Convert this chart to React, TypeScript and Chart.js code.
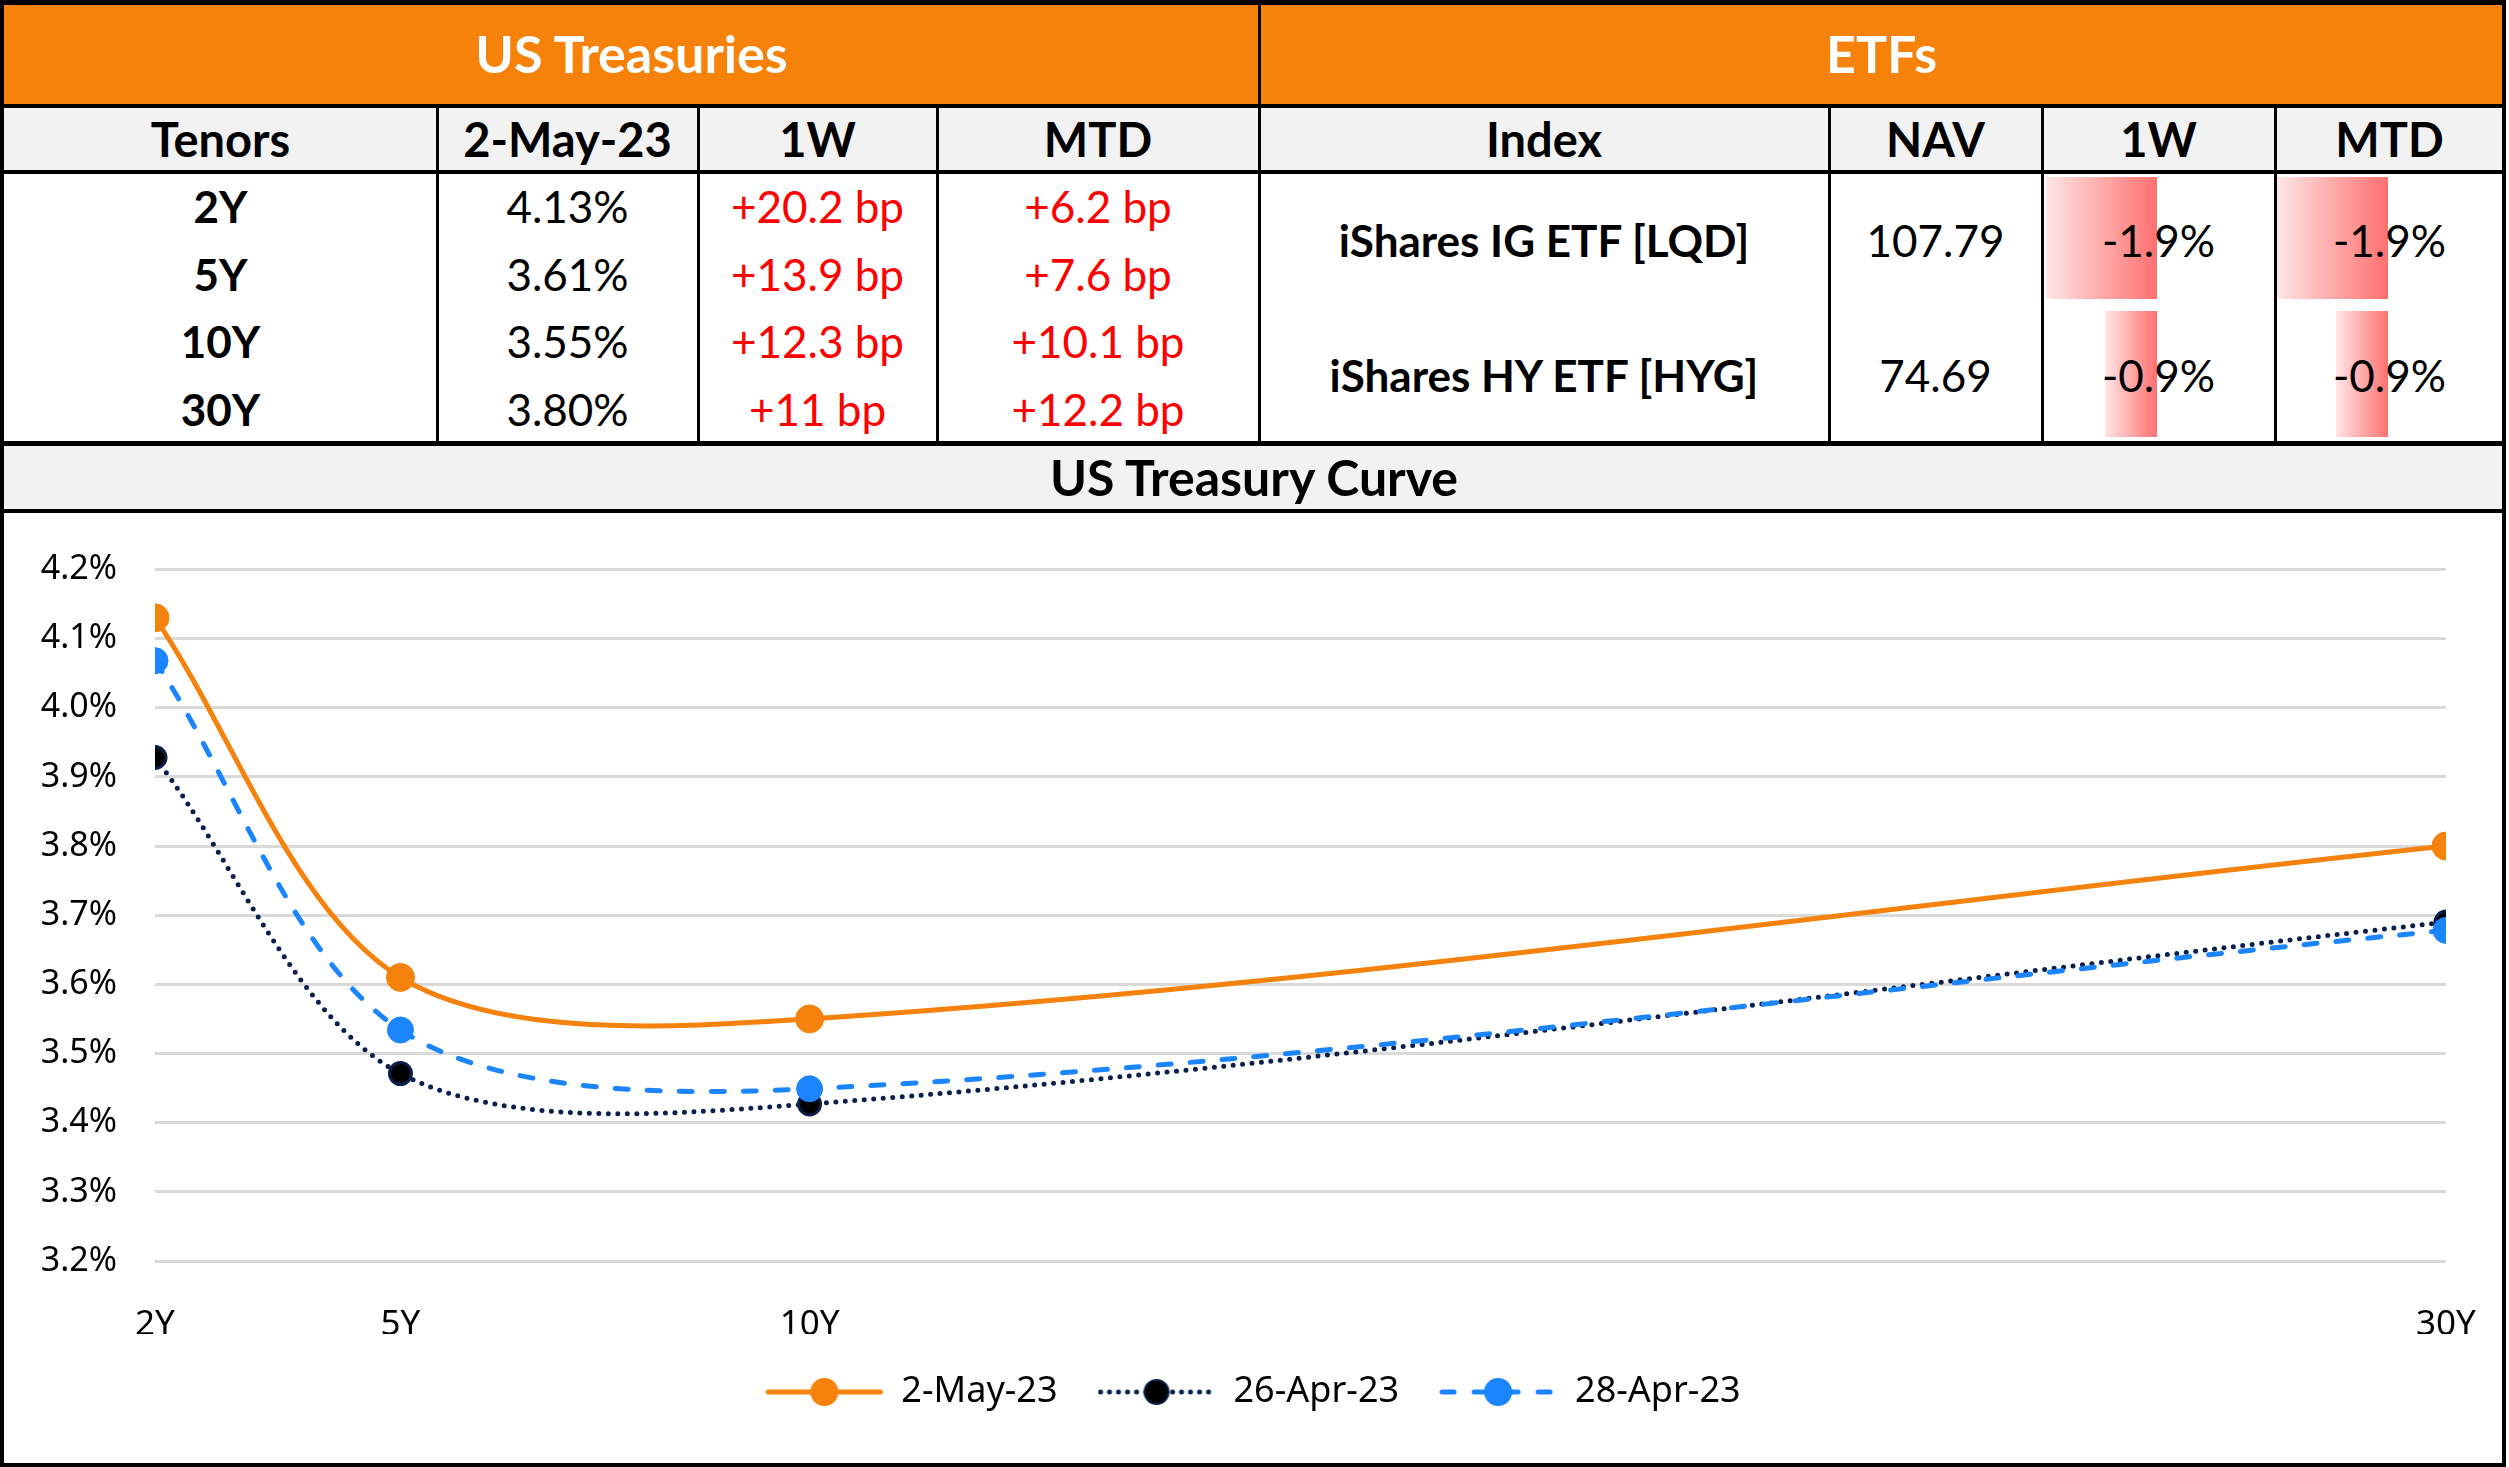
import React, { useEffect, useRef } from "react";
import { Chart, registerables } from "chart.js";

Chart.register(...registerables);

// ---------- DATA ----------
const tenorLabels = ["2Y", "5Y", "10Y", "30Y"];
const tenorYears = [2, 5, 10, 30];
const seriesNames = ["2-May-23", "26-Apr-23", "28-Apr-23"];
const yieldsMay2 = [4.13, 3.61, 3.55, 3.8];
const yieldsApr26 = [3.928, 3.471, 3.427, 3.69];
const yieldsApr28 = [4.068, 3.534, 3.449, 3.678];
const yTickValues = [3.2, 3.3, 3.4, 3.5, 3.6, 3.7, 3.8, 3.9, 4.0, 4.1, 4.2];

const yieldText = ["4.13%", "3.61%", "3.55%", "3.80%"];
const weekChangeText = ["+20.2 bp", "+13.9 bp", "+12.3 bp", "+11 bp"];
const mtdChangeText = ["+6.2 bp", "+7.6 bp", "+10.1 bp", "+12.2 bp"];

const etfNames = ["iShares IG ETF [LQD]", "iShares HY ETF [HYG]"];
const etfNav = ["107.79", "74.69"];
const etfWeek = [-1.9, -0.9];
const etfMtd = [-1.9, -0.9];

const tsyHeaders = ["Tenors", "2-May-23", "1W", "MTD"];
const etfHeaders = ["Index", "NAV", "1W", "MTD"];

// ---------- STYLE ----------
const ORANGE = "#F7820A";
const CHART_ORANGE = "#F5820C";
const BLUE = "#1A85FF";
const NAVY = "#0B1F4D";
const GRAY_BG = "#F2F2F2";
const TABLE_FONT = "Lato, 'Open Sans', sans-serif";
const CHART_FONT = "'Noto Sans', 'Open Sans', sans-serif";

const W = 2509;
const H = 1467;
const tsyCols = [4, 437, 698, 937, 1259];
const etfCols = [1259, 1829, 2042, 2275, 2504];
const rowY = { top: 0, orangeEnd: 106, headEnd: 172, dataEnd: 443, titleEnd: 511, bottom: 1463 };

function legendImage(
  color: string,
  dash: number[],
  lw: number,
  fill: string,
  border: string,
  r: number
) {
  const c = document.createElement("canvas");
  c.width = 118;
  c.height = 36;
  const g = c.getContext("2d")!;
  g.strokeStyle = color;
  g.lineWidth = lw;
  g.lineCap = "round";
  g.setLineDash(dash);
  g.beginPath();
  g.moveTo(3, 18);
  g.lineTo(115, 18);
  g.stroke();
  g.setLineDash([]);
  g.fillStyle = fill;
  g.beginPath();
  g.arc(59, 18, r, 0, Math.PI * 2);
  g.fill();
  g.strokeStyle = border;
  g.lineWidth = 2;
  g.stroke();
  return c;
}

const centerLegend = {
  id: "centerLegend",
  afterLayout(c: any) {
    const lg = c.legend;
    if (!lg) return;
    const w = lg.right - lg.left;
    lg.left = (c.width - w) / 2;
    lg.right = lg.left + w;
  },
};

function CurveChart() {
  const ref = useRef<HTMLCanvasElement | null>(null);
  useEffect(() => {
    if (!ref.current) return;
    const imgs = [
      legendImage(CHART_ORANGE, [], 5, CHART_ORANGE, CHART_ORANGE, 13),
      legendImage(NAVY, [0, 9], 5, "#000000", NAVY, 12),
      legendImage(BLUE, [12, 20], 5, BLUE, BLUE, 13),
    ];
    const mk = (vals: number[]) => tenorYears.map((x, i) => ({ x, y: vals[i] }));
    const chart = new Chart(ref.current, {
      type: "line",
      data: {
        datasets: [
          {
            label: seriesNames[0],
            data: mk(yieldsMay2),
            borderColor: CHART_ORANGE,
            backgroundColor: CHART_ORANGE,
            borderWidth: 5,
            pointRadius: 14,
            pointBackgroundColor: CHART_ORANGE,
            pointBorderColor: CHART_ORANGE,
            pointBorderWidth: 1,
            tension: 0.32,
            order: 0,
          },
          {
            label: seriesNames[1],
            data: mk(yieldsApr26),
            borderColor: NAVY,
            backgroundColor: "#000000",
            borderWidth: 5,
            borderDash: [0, 9.5],
            borderCapStyle: "round",
            pointRadius: 11,
            pointBackgroundColor: "#000000",
            pointBorderColor: NAVY,
            pointBorderWidth: 3,
            tension: 0.32,
            order: 2,
          },
          {
            label: seriesNames[2],
            data: mk(yieldsApr28),
            borderColor: BLUE,
            backgroundColor: BLUE,
            borderWidth: 5,
            borderDash: [13, 19],
            borderCapStyle: "round",
            pointRadius: 13,
            pointBackgroundColor: BLUE,
            pointBorderColor: BLUE,
            pointBorderWidth: 1,
            tension: 0.32,
            order: 1,
          },
        ],
      },
      options: {
        animation: false,
        responsive: false,
        devicePixelRatio: 1,
        layout: { autoPadding: false, padding: { top: 53, left: 0, right: 56, bottom: 43 } },
        plugins: {
          tooltip: { enabled: false },
          legend: {
            position: "bottom",
            labels: {
              usePointStyle: true,
              pointStyleWidth: 118,
              padding: 40,
              color: "#000000",
              font: { family: CHART_FONT, size: 36 },
              generateLabels: (ch: any) =>
                ch.data.datasets.map((ds: any, i: number) => ({
                  text: ds.label,
                  pointStyle: imgs[i],
                  datasetIndex: i,
                  fillStyle: "rgba(0,0,0,0)",
                  strokeStyle: "rgba(0,0,0,0)",
                  lineWidth: 0,
                  hidden: false,
                  rotation: 0,
                  fontColor: "#000000",
                })),
            },
          },
        },
        scales: {
          x: {
            type: "linear",
            min: 2,
            max: 30,
            afterBuildTicks: (s: any) => {
              s.ticks = tenorYears.map((v) => ({ value: v }));
            },
            afterFit: (s: any) => {
              s.height = 73;
              s.paddingLeft = 0;
              s.paddingRight = 0;
            },
            grid: { display: false, drawTicks: false },
            border: { display: false },
            ticks: {
              autoSkip: false,
              maxRotation: 0,
              padding: 43,
              color: "#000000",
              font: { family: CHART_FONT, size: 35 },
              callback: (v: any) => {
                const i = tenorYears.indexOf(Number(v));
                return i >= 0 ? tenorLabels[i] : "";
              },
            },
          },
          y: {
            min: 3.2,
            max: 4.2,
            afterBuildTicks: (s: any) => {
              s.ticks = yTickValues.map((v) => ({ value: v }));
            },
            afterFit: (s: any) => {
              s.width = 151;
            },
            grid: { color: "#D9D9D9", lineWidth: 3, drawTicks: false },
            border: { display: false },
            ticks: {
              padding: 38,
              color: "#000000",
              font: { family: CHART_FONT, size: 34 },
              callback: (v: any) => Number(v).toFixed(1) + "%",
            },
          },
        },
      } as any,
      plugins: [centerLegend],
    });
    return () => chart.destroy();
  }, []);
  return (
    <canvas
      ref={ref}
      width={2498}
      height={952}
      style={{ position: "absolute", left: 4, top: rowY.titleEnd, width: 2498, height: 952 }}
    />
  );
}

const abs = (l: number, t: number, w: number, h: number, extra: any = {}) => ({
  position: "absolute" as const,
  left: l,
  top: t,
  width: w,
  height: h,
  ...extra,
});

function Cell(props: {
  l: number;
  r: number;
  t: number;
  b: number;
  text: string;
  size: number;
  bold?: boolean;
  color?: string;
}) {
  return (
    <div
      style={abs(props.l, props.t, props.r - props.l, props.b - props.t, {
        display: "flex",
        alignItems: "center",
        justifyContent: "center",
        fontFamily: TABLE_FONT,
        fontSize: props.size,
        fontWeight: props.bold ? 700 : 400,
        color: props.color || "#000000",
        whiteSpace: "nowrap",
        zIndex: 2,
      })}
    >
      {props.text}
    </div>
  );
}

function DataBar(props: { colL: number; colR: number; t: number; b: number; value: number }) {
  const axisX = props.colL + (props.colR - props.colL) * 0.495;
  const pxPerPct = 58.5;
  const w = Math.abs(props.value) * pxPerPct;
  return (
    <div
      style={abs(axisX - w, props.t, w, props.b - props.t, {
        background: "linear-gradient(to right, rgba(255,230,230,1), rgba(255,112,112,1))",
        zIndex: 1,
      })}
    />
  );
}

export default function App() {
  const tsyRowH = (rowY.dataEnd - rowY.headEnd) / 4;
  const etfRowH = (rowY.dataEnd - rowY.headEnd) / 2;
  const vLine = (x: number, t: number, b: number, w = 2) => (
    <div key={`v${x}-${t}`} style={abs(x - w / 2, t, w, b - t, { background: "#000", zIndex: 3 })} />
  );
  const hLine = (y: number, h = 4) => (
    <div key={`h${y}`} style={abs(0, y - h / 2, 2506, h, { background: "#000", zIndex: 3 })} />
  );
  return (
    <div
      style={{
        position: "fixed",
        left: 0,
        top: 0,
        width: W,
        height: H,
        background: "#FFFFFF",
        overflow: "hidden",
      }}
    >
      {/* backgrounds */}
      <div style={abs(0, 0, 2506, rowY.orangeEnd, { background: ORANGE })} />
      <div style={abs(0, rowY.orangeEnd, 2506, rowY.headEnd - rowY.orangeEnd, { background: GRAY_BG })} />
      <div style={abs(0, rowY.dataEnd, 2506, rowY.titleEnd - rowY.dataEnd, { background: GRAY_BG })} />

      {/* section headers */}
      <Cell l={4} r={1259} t={0} b={rowY.orangeEnd} text="US Treasuries" size={52} bold color="#FFFFFF" />
      <Cell l={1259} r={2504} t={0} b={rowY.orangeEnd} text="ETFs" size={52} bold color="#FFFFFF" />

      {/* column headers */}
      {tsyHeaders.map((h, i) => (
        <Cell key={"th" + i} l={tsyCols[i]} r={tsyCols[i + 1]} t={rowY.orangeEnd} b={rowY.headEnd} text={h} size={47} bold />
      ))}
      {etfHeaders.map((h, i) => (
        <Cell key={"eh" + i} l={etfCols[i]} r={etfCols[i + 1]} t={rowY.orangeEnd} b={rowY.headEnd} text={h} size={47} bold />
      ))}

      {/* treasury rows */}
      {tenorLabels.map((t, i) => {
        const top = rowY.headEnd + i * tsyRowH;
        const bot = top + tsyRowH;
        return (
          <React.Fragment key={"tr" + i}>
            <Cell l={tsyCols[0]} r={tsyCols[1]} t={top} b={bot} text={t} size={44} bold />
            <Cell l={tsyCols[1]} r={tsyCols[2]} t={top} b={bot} text={yieldText[i]} size={44} />
            <Cell l={tsyCols[2]} r={tsyCols[3]} t={top} b={bot} text={weekChangeText[i]} size={44} color="#FF0000" />
            <Cell l={tsyCols[3]} r={tsyCols[4]} t={top} b={bot} text={mtdChangeText[i]} size={44} color="#FF0000" />
          </React.Fragment>
        );
      })}

      {/* ETF rows */}
      {etfNames.map((n, i) => {
        const top = rowY.headEnd + i * etfRowH;
        const bot = top + etfRowH;
        const barT = i === 0 ? top + 5 : top + 3;
        const barB = i === 0 ? bot - 9 : bot - 6;
        return (
          <React.Fragment key={"er" + i}>
            <Cell l={etfCols[0]} r={etfCols[1]} t={top} b={bot} text={n} size={44} bold />
            <Cell l={etfCols[1]} r={etfCols[2]} t={top} b={bot} text={etfNav[i]} size={44} />
            <DataBar colL={etfCols[2]} colR={etfCols[3]} t={barT} b={barB} value={etfWeek[i]} />
            <Cell l={etfCols[2]} r={etfCols[3]} t={top} b={bot} text={etfWeek[i].toFixed(1) + "%"} size={44} />
            <DataBar colL={etfCols[3]} colR={etfCols[4]} t={barT} b={barB} value={etfMtd[i]} />
            <Cell l={etfCols[3]} r={etfCols[4]} t={top} b={bot} text={etfMtd[i].toFixed(1) + "%"} size={44} />
          </React.Fragment>
        );
      })}

      {/* chart title */}
      <Cell l={4} r={2504} t={rowY.dataEnd} b={rowY.titleEnd} text="US Treasury Curve" size={50} bold />

      {/* chart */}
      <CurveChart />

      {/* grid lines */}
      {hLine(2, 5)}
      {hLine(rowY.orangeEnd)}
      {hLine(rowY.headEnd)}
      {hLine(rowY.dataEnd, 5)}
      {hLine(rowY.titleEnd)}
      {hLine(rowY.bottom + 2, 4)}
      {vLine(2, 0, H, 4)}
      {vLine(2504, 0, H, 4)}
      {vLine(1259, 0, rowY.dataEnd, 3)}
      {[437, 698, 937].map((x) => vLine(x, rowY.orangeEnd, rowY.dataEnd, 3))}
      {[1829, 2042, 2275].map((x) => vLine(x, rowY.orangeEnd, rowY.dataEnd, 3))}
    </div>
  );
}
